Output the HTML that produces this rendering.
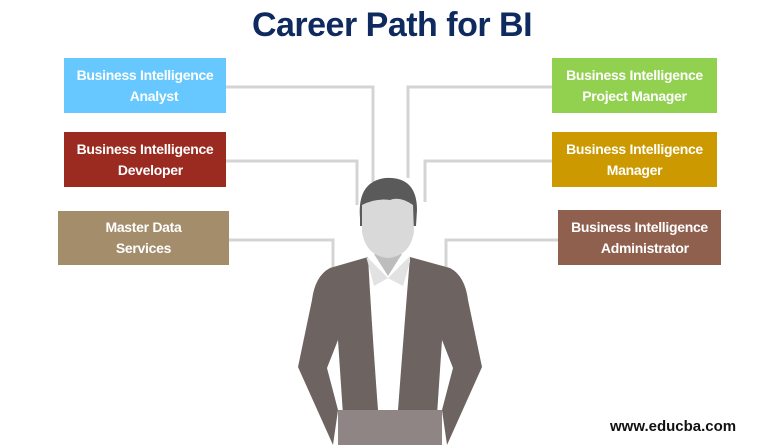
<!DOCTYPE html>
<html><head><style>
body{margin:0;width:784px;height:445px;background:#fff;position:relative;overflow:hidden;font-family:"Liberation Sans",sans-serif}
.t{position:absolute;left:0;width:784px;top:6px;text-align:center;font-weight:bold;font-size:34px;color:#0f2a5e;letter-spacing:-0.5px}
.b{position:absolute;color:#fff;font-weight:bold;font-size:14px;letter-spacing:-0.3px;line-height:21px;text-align:center;display:flex;align-items:center;justify-content:center}
.w{position:absolute;left:610px;top:418px;font-weight:bold;font-size:15px;color:#111}
</style></head><body>
<svg width="784" height="445" style="position:absolute;left:0;top:0">
<g fill="none" stroke="#d4d4d4" stroke-width="3">
<polyline points="226,87 373,87 373,182"/>
<polyline points="226,161 357,161 357,205"/>
<polyline points="229,240 333,240 333,270"/>
<polyline points="552,87 408,87 408,178"/>
<polyline points="552,161 425,161 425,202"/>
<polyline points="558,240 446,240 446,270"/>
</g>
<path d="M368,257 L330,268 Q315,276 312,300 L298,367 L333,445 L338,410 L327,368 L338,340 L345,445 L435,445 L442,340 L453,368 L442,410 L447,445 L482,367 L468,300 Q465,276 450,268 L410,257 Z" fill="#6d6361"/>
<path d="M368,257 Q372,330 378,410 L398,410 Q404,330 410,257 Z" fill="#fff"/>
<path d="M366,256 L388,278 L410,256 L410,262 L403,286 L388,278 L374,286 Z" fill="#e2e2e2"/>
<path d="M374,254 L402,254 L388,276 Z" fill="#bdbdbd"/>
<rect x="338" y="410" width="104" height="35" fill="#8f8585"/>
<path d="M360,218 Q357,182 385,178 Q417,176 417,210 L416,226 L360,226 Z" fill="#5a5a5a"/>
<path d="M362,205 Q375,198 390,200 Q400,196 413,205 L414,232 Q410,256 388,258 Q366,256 362,232 Z" fill="#d9d9d9"/>
</svg>
<div class="t">Career Path for BI</div>
<div class="b" style="left:64px;top:58px;width:162px;height:55px;background:#66c8fe">Business Intelligence<br>&nbsp;&nbsp;&nbsp;&nbsp;&nbsp;Analyst</div>
<div class="b" style="left:64px;top:132px;width:162px;height:55px;background:#9b2b20">Business Intelligence<br>&nbsp;&nbsp;&nbsp;Developer</div>
<div class="b" style="left:58px;top:211px;width:171px;height:54px;background:#a38d6b">Master Data<br>Services</div>
<div class="b" style="left:552px;top:58px;width:165px;height:55px;background:#92d050">Business Intelligence<br>Project Manager</div>
<div class="b" style="left:552px;top:132px;width:165px;height:55px;background:#cc9900">Business Intelligence<br>Manager</div>
<div class="b" style="left:558px;top:210px;width:163px;height:55px;background:#8f604e">Business Intelligence<br>&nbsp;&nbsp;&nbsp;Administrator</div>
<div class="w">www.educba.com</div>
</body></html>
